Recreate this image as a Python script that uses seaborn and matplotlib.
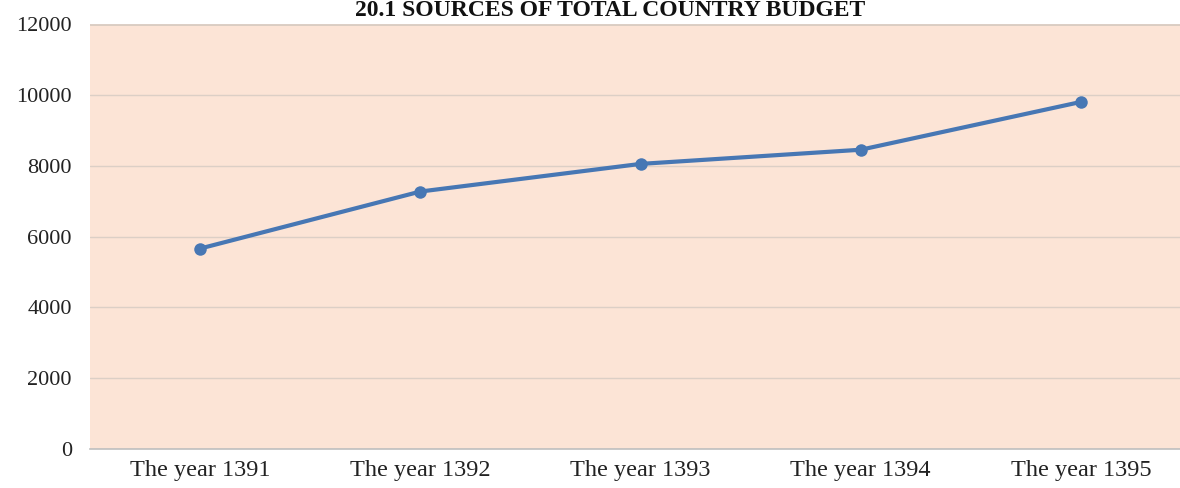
import pandas as pd
import matplotlib.pyplot as plt
import seaborn as sns

years = ["The year 1391", "The year 1392", "The year 1393", "The year 1394", "The year 1395"]
budget = [5660, 7270, 8050, 8450, 9800]

df = pd.DataFrame({"Year": years, "Budget": budget})

sns.set_style("white")
plt.rcParams['font.family'] = ['Liberation Serif', 'DejaVu Serif']

fig = plt.figure(figsize=(11.8, 4.88), dpi=100)
ax = fig.add_axes([0.0763, 0.0799, 0.9237, 0.8709])
ax.set_facecolor("#FCE4D6")

sns.lineplot(data=df, x="Year", y="Budget", sort=False, color="#4777B4",
             linewidth=3, marker="o", markersize=9, markeredgewidth=0, ax=ax)

ax.set_ylim(0, 12000)
ax.set_xlim(-0.5, 4.45)
ax.set_yticks(range(0, 12001, 2000))
ax.yaxis.grid(True, color="#DCCFC6", linewidth=1)
ax.set_axisbelow(True)
for s in ["left", "right", "top"]:
    ax.spines[s].set_visible(False)
ax.spines["bottom"].set_color("#BFBFBF")
ax.spines["bottom"].set_linewidth(1.2)
ax.axhline(12000, color="#D6CBC0", linewidth=2, zorder=0.5)
ax.tick_params(axis="both", length=0, colors="#222222")
ax.tick_params(axis="y", labelsize=16, pad=13)
ax.tick_params(axis="x", labelsize=17.5, pad=8)
ax.set_xlabel("")
ax.set_ylabel("")

fig.text(0.517, 0.968, "20.1 SOURCES OF TOTAL COUNTRY BUDGET", ha="center",
         va="baseline", fontsize=17, fontweight="bold", color="#111111")

fig.savefig("out.png", dpi=100)
